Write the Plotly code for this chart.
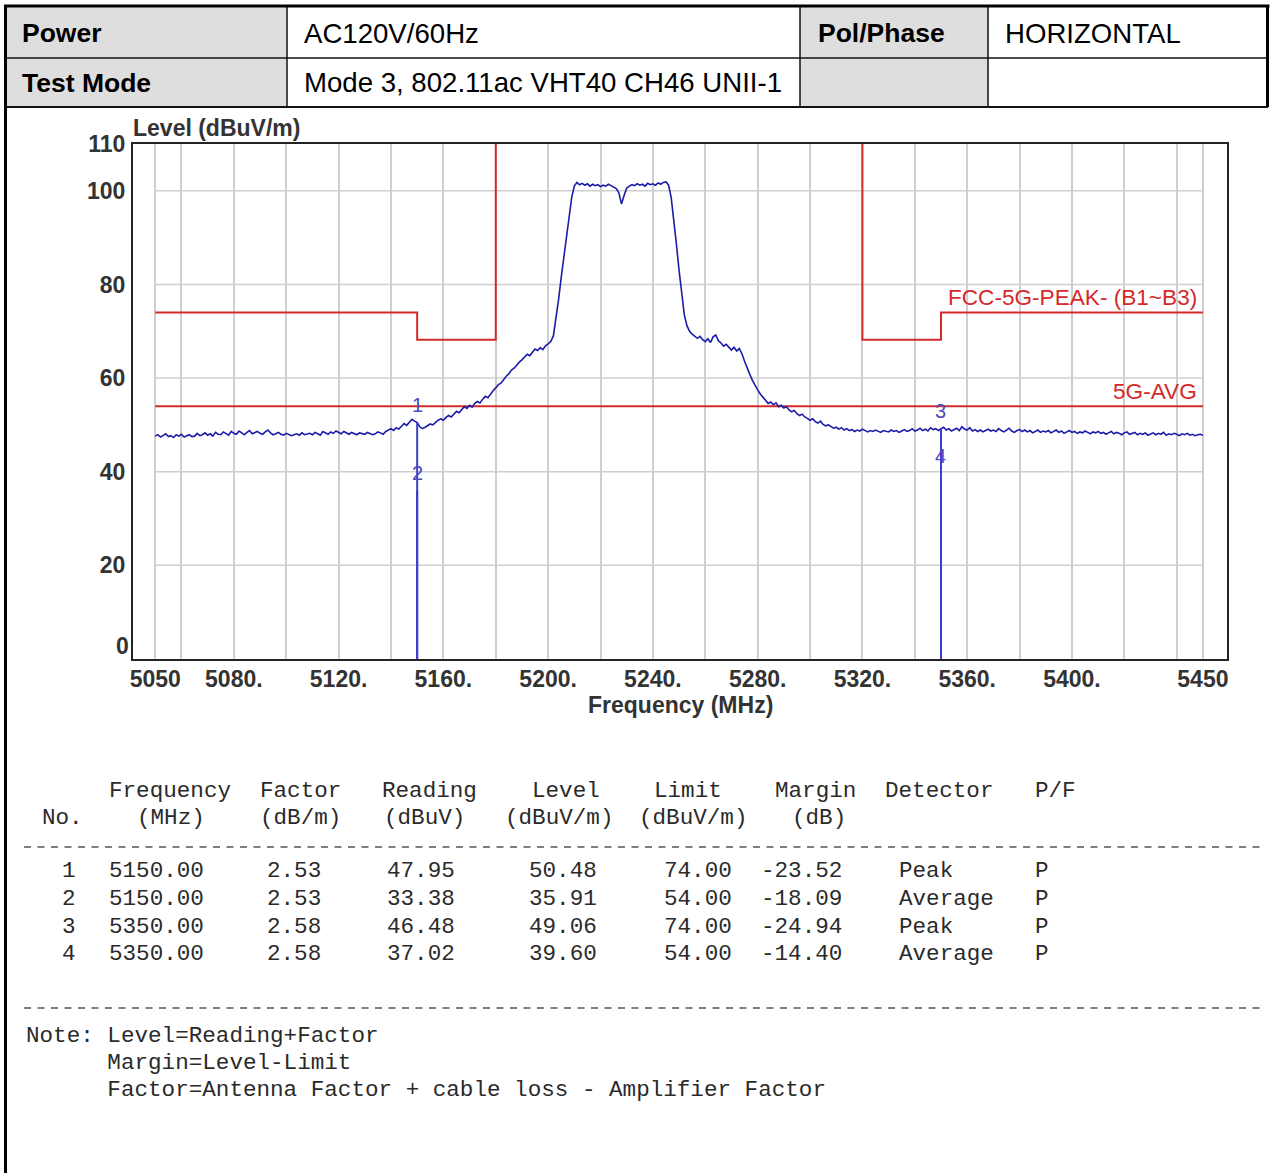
import plotly.graph_objects as go

# ---------------- data ----------------
INFO_ROWS = [["Power", "AC120V/60Hz", "Pol/Phase", "HORIZONTAL"],
             ["Test Mode", "Mode 3, 802.11ac VHT40 CH46 UNII-1", "", ""]]

FREQ_START = 5050.0   # MHz, sweep start
FREQ_STEP = 1.0       # MHz per trace sample
LEVELS = [
    47.6, 47.9, 47.4, 47.8, 48.1, 47.5, 47.7, 47.3, 47.9, 47.6, 48.0, 47.4, 47.7, 47.9, 47.5, 47.6, 48.2, 47.7, 47.9, 48.3,
    47.8, 48.1, 47.6, 48.4, 48.0, 47.9, 48.5, 48.1, 47.8, 48.6, 48.2, 48.0, 48.7, 48.3, 47.9, 48.4, 48.8, 48.1, 48.3, 48.6,
    48.2, 48.0, 48.5, 48.9, 48.3, 47.9, 48.1, 48.4, 48.0, 47.8, 48.2, 48.0, 47.7, 47.9, 48.1, 47.8, 48.3, 47.9, 48.0, 48.2,
    47.9, 48.4, 48.1, 47.8, 48.6, 48.3, 48.0, 48.5, 48.2, 48.7, 48.4, 48.1, 48.6, 48.3, 48.0, 48.4, 48.2, 47.9, 48.3, 48.1,
    48.0, 48.4, 48.2, 47.9, 48.1, 48.5, 48.3, 48.0, 48.6, 48.9, 49.2, 48.8, 49.4, 49.1, 49.8, 50.3, 49.9, 50.6, 51.2, 50.8,
    50.5, 49.6, 49.2, 49.5, 49.9, 50.2, 50.0, 50.6, 51.0, 51.3, 51.0, 51.6, 52.0, 51.7, 52.4, 52.9, 52.6, 53.2, 53.9, 53.5,
    54.2, 53.8, 54.6, 55.0, 54.7, 55.5, 56.1, 55.8, 56.6, 57.3, 57.9, 58.6, 58.9, 59.8, 60.4, 60.9, 61.7, 62.1, 62.8, 63.4,
    63.9, 64.6, 65.1, 64.8, 65.6, 66.2, 65.9, 66.5, 66.1, 66.9, 67.3, 67.8, 69.0, 72.5, 76.8, 81.5, 86.0, 90.5, 95.0, 98.6,
    101.0, 101.8, 101.3, 101.6, 101.2, 101.5, 101.0, 101.4, 101.1, 101.3, 100.9, 101.2, 101.0, 101.4, 101.1, 100.8, 100.5, 99.6, 97.2, 99.0,
    100.6, 101.0, 101.3, 101.1, 101.5, 101.2, 101.4, 101.0, 101.6, 101.3, 101.5, 101.2, 101.7, 101.4, 101.8, 101.9, 101.2, 98.5, 94.0, 88.5,
    83.0, 77.5, 73.5, 71.2, 70.0, 69.4, 69.0, 68.5, 68.9, 68.2, 67.8, 68.4, 67.6, 68.8, 69.2, 68.0, 67.5, 66.8, 67.2, 66.5,
    66.0, 66.6, 65.8, 66.3, 65.2, 63.6, 62.0, 60.8, 59.5, 58.4, 57.5, 56.6, 55.9, 55.2, 54.6, 54.9, 54.3, 54.7, 53.9, 54.2,
    53.6, 53.9, 53.2, 52.8, 53.1, 52.4, 52.0, 52.3, 51.7, 51.4, 51.0, 51.3, 50.7, 50.4, 50.8, 50.1, 49.8, 50.0, 49.6, 49.3,
    49.5, 49.1, 49.4, 48.9, 49.2, 48.8, 49.0, 48.6, 48.9, 48.7, 49.1, 48.8, 48.5, 48.8, 48.6, 48.9, 48.7, 48.4, 48.8, 48.6,
    48.5, 48.9, 48.6, 48.8, 48.4, 48.7, 49.0, 48.6, 48.8, 49.2, 48.7, 48.9, 49.3, 48.8, 49.1, 48.7, 49.4, 49.0, 49.2, 48.8,
    49.1, 49.5, 48.9, 49.2, 48.7, 49.0, 49.3, 48.8, 49.6, 49.1, 48.9, 49.4, 48.7, 49.0, 48.6, 48.9, 48.5, 48.8, 49.1, 48.7,
    48.9, 48.6, 49.2, 48.8, 48.5, 48.9, 49.3, 48.7, 48.4, 48.8, 49.0, 48.6, 48.9, 48.5, 48.8, 48.3, 48.6, 48.9, 48.4, 48.7,
    48.5, 48.8, 48.3, 48.6, 48.9, 48.4, 48.7, 48.2, 48.5, 48.8, 48.4, 48.6, 48.2, 48.5, 48.3, 48.7, 48.4, 48.1, 48.5, 48.3,
    48.6, 48.2, 48.4, 48.0, 48.3, 48.6, 48.1, 48.4, 48.2, 47.9, 48.3, 48.5, 48.0, 48.2, 48.4, 47.9, 48.2, 48.0, 48.3, 47.8,
    48.1, 48.3, 47.9, 48.2, 48.0, 48.4, 47.8, 48.1, 47.9, 48.2, 48.0, 47.7, 48.1, 47.9, 48.2, 47.8, 48.0, 47.7, 47.9, 48.0,
    47.8,
]

PEAK_LIMIT_F = [5050, 5150, 5150, 5180, 5180, None, 5320, 5320, 5350, 5350, 5450]
PEAK_LIMIT_V = [74, 74, 68.2, 68.2, 110, None, 110, 68.2, 68.2, 74, 74]
AVG_LIMIT_F = [5050, 5450]
AVG_LIMIT_V = [54, 54]
PEAK_LABEL = "FCC-5G-PEAK- (B1~B3)"
AVG_LABEL = "5G-AVG"

X_GRID = [5050, 5060, 5080, 5100, 5120, 5140, 5160, 5180, 5200, 5220, 5240, 5260,
          5280, 5300, 5320, 5340, 5360, 5380, 5400, 5420, 5440, 5450]
X_LABELED = {5050: "5050", 5080: "5080.", 5120: "5120.", 5160: "5160.", 5200: "5200.",
             5240: "5240.", 5280: "5280.", 5320: "5320.", 5360: "5360.", 5400: "5400.", 5450: "5450"}
Y_GRID = [20, 40, 60, 80, 100]
Y_TICKS = [20, 40, 60, 80, 100, 110]

MK_NO = [1, 2, 3, 4]
MK_FREQ = [5150.00, 5150.00, 5350.00, 5350.00]
MK_FACTOR = [2.53, 2.53, 2.58, 2.58]
MK_READING = [47.95, 33.38, 46.48, 37.02]
MK_LEVEL = [50.48, 35.91, 49.06, 39.60]
MK_LIMIT = [74.00, 54.00, 74.00, 54.00]
MK_MARGIN = [-23.52, -18.09, -24.94, -14.40]
MK_DETECTOR = ["Peak", "Average", "Peak", "Average"]
MK_PF = ["P", "P", "P", "P"]

NOTES = ["Note: Level=Reading+Factor", "      Margin=Level-Limit",
         "      Factor=Antenna Factor + cable loss - Amplifier Factor"]

# ---------------- layout geometry (pixels) ----------------
W, H = 1271, 1173
PL, PR, PT, PB = 133, 1227, 144, 659
PW, PH = PR - PL, PB - PT


def px(x):
    return (x - PL) / PW


def py(y):
    return (PB - y) / PH


SANS = "Liberation Sans, Arial, sans-serif"
MONO = "Liberation Mono, DejaVu Sans Mono, monospace"
TXT = "#2a2a2a"
RED = "#d42a2a"
BLUE = "#1c1ca8"
MBLUE = "#3c3cd0"
AXF = 23

fig = go.Figure()

freqs = [FREQ_START + i * FREQ_STEP for i in range(len(LEVELS))]

fig.add_trace(go.Scatter(x=PEAK_LIMIT_F, y=PEAK_LIMIT_V, mode="lines",
                         line=dict(color=RED, width=2), hoverinfo="skip"))
fig.add_trace(go.Scatter(x=AVG_LIMIT_F, y=AVG_LIMIT_V, mode="lines",
                         line=dict(color=RED, width=2), hoverinfo="skip"))
fig.add_trace(go.Scatter(x=freqs, y=LEVELS, mode="lines",
                         line=dict(color=BLUE, width=1.6)))
# marker lines
for f, lv in zip(MK_FREQ, MK_LEVEL):
    fig.add_trace(go.Scatter(x=[f, f], y=[0, lv], mode="lines",
                             line=dict(color=MBLUE, width=2), hoverinfo="skip"))

shapes = []
for g in Y_GRID:
    shapes.append(dict(type="line", xref="x", yref="y", x0=X_GRID[0], x1=X_GRID[-1], y0=g, y1=g,
                       line=dict(color="#cfcfcf", width=1.5), layer="below"))

ann = []
for no, f, lv in zip(MK_NO, MK_FREQ, MK_LEVEL):
    ann.append(dict(x=f, y=lv, xref="x", yref="y", text=str(no), showarrow=False,
                    yshift=18, font=dict(family=SANS, size=20, color="#4a4ac0")))

ann.append(dict(x=X_GRID[-1], y=PEAK_LIMIT_V[-1], xref="x", yref="y", text=PEAK_LABEL,
                showarrow=False, xanchor="right", xshift=-4, yshift=15,
                font=dict(family=SANS, size=22.6, color=RED)))
ann.append(dict(x=X_GRID[-1], y=AVG_LIMIT_V[-1], xref="x", yref="y", text=AVG_LABEL,
                showarrow=False, xanchor="right", xshift=-4, yshift=15,
                font=dict(family=SANS, size=22.6, color=RED)))

# axis titles & zero label
ann.append(dict(x=px(131), y=py(128), xref="paper", yref="paper", text="<b>Level (dBuV/m)</b>",
                showarrow=False, xanchor="left", yanchor="middle",
                font=dict(family=SANS, size=AXF, color="#333")))
ann.append(dict(x=px(680), y=py(705), xref="paper", yref="paper", text="<b>Frequency (MHz)</b>",
                showarrow=False, xanchor="center", yanchor="middle",
                font=dict(family=SANS, size=AXF, color="#333")))
ann.append(dict(x=px(131), y=0, xref="paper", yref="y", text="<b>0</b>", showarrow=False,
                xanchor="right", yanchor="middle", yshift=13,
                font=dict(family=SANS, size=AXF, color="#333")))

# ---------------- top info table ----------------
col_x = [5, 287, 800, 988, 1268]
row_y = [6, 58, 107]
for r in range(2):
    for c in (0, 2):
        shapes.append(dict(type="rect", xref="paper", yref="paper",
                           x0=px(col_x[c]), x1=px(col_x[c + 1]), y0=py(row_y[r]), y1=py(row_y[r + 1]),
                           fillcolor="#dedede", line=dict(width=0), layer="below"))
for cx in col_x[1:4]:
    shapes.append(dict(type="line", xref="paper", yref="paper", x0=px(cx), x1=px(cx),
                       y0=py(row_y[0]), y1=py(row_y[2]), line=dict(color="#111", width=1.5)))
shapes.append(dict(type="line", xref="paper", yref="paper", x0=px(5), x1=px(1268),
                   y0=py(row_y[1]), y1=py(row_y[1]), line=dict(color="#111", width=1.5)))
shapes.append(dict(type="line", xref="paper", yref="paper", x0=px(5), x1=px(1268),
                   y0=py(row_y[2]), y1=py(row_y[2]), line=dict(color="#111", width=2)))
shapes.append(dict(type="line", xref="paper", yref="paper", x0=px(4), x1=px(1269.5),
                   y0=py(6), y1=py(6), line=dict(color="#000", width=3)))
shapes.append(dict(type="line", xref="paper", yref="paper", x0=px(5.5), x1=px(5.5),
                   y0=py(5), y1=py(1173), line=dict(color="#000", width=3)))
shapes.append(dict(type="line", xref="paper", yref="paper", x0=px(1267.5), x1=px(1267.5),
                   y0=py(5), y1=py(107), line=dict(color="#000", width=3)))

cell_text_x = [20, 302, 816, 1003]
cell_text_y = [33, 83]
for r, row in enumerate(INFO_ROWS):
    for c, t in enumerate(row):
        if not t:
            continue
        bold = c in (0, 2)
        ann.append(dict(x=px(cell_text_x[c]), y=py(cell_text_y[r]), xref="paper", yref="paper",
                        text=f"<b>{t}</b>" if bold else t, showarrow=False,
                        xanchor="left", yanchor="middle",
                        font=dict(family=SANS, size=26.5 if bold else 27.6, color="#000")))

# ---------------- bottom result table ----------------
MF = dict(family=MONO, size=22.6, color=TXT)


def mono(x, y, text, anchor="left"):
    ann.append(dict(x=px(x), y=py(y), xref="paper", yref="paper", text=text.replace(" ", "&nbsp;"),
                    showarrow=False, xanchor=anchor, yanchor="middle", font=MF))


hdr1 = [(107, "Frequency"), (258, "Factor"), (380, "Reading"), (530, "Level"),
        (652, "Limit"), (773, "Margin"), (883, "Detector"), (1033, "P/F")]
hdr2 = [(40, "No."), (135, "(MHz)"), (258, "(dB/m)"), (382, "(dBuV)"), (503, "(dBuV/m)"),
        (637, "(dBuV/m)"), (790, "(dB)")]
for x, t in hdr1:
    mono(x, 791, t)
for x, t in hdr2:
    mono(x, 818, t)

row_ys = [871, 899, 927, 954]
for i in range(len(MK_NO)):
    yy = row_ys[i]
    mono(78, yy, str(MK_NO[i]), "right")
    mono(107, yy, f"{MK_FREQ[i]:.2f}")
    mono(323, yy, f"{MK_FACTOR[i]:.2f}", "right")
    mono(457, yy, f"{MK_READING[i]:.2f}", "right")
    mono(599, yy, f"{MK_LEVEL[i]:.2f}", "right")
    mono(734, yy, f"{MK_LIMIT[i]:.2f}", "right")
    mono(844, yy, f"{MK_MARGIN[i]:.2f}", "right")
    mono(897, yy, MK_DETECTOR[i])
    mono(1033, yy, MK_PF[i])

for yy in (847, 1008):
    shapes.append(dict(type="line", xref="paper", yref="paper", x0=px(24), x1=px(1262),
                       y0=py(yy), y1=py(yy), line=dict(color="#555", width=1.5, dash="7px,6.5px")))

for i, t in enumerate(NOTES):
    mono(24, 1036 + 27 * i, t)

fig.update_layout(
    width=W, height=H,
    margin=dict(l=PL, r=W - PR, t=PT, b=H - PB, pad=0),
    paper_bgcolor="white", plot_bgcolor="white",
    showlegend=False,
    shapes=shapes, annotations=ann,
    xaxis=dict(range=[5041.5, 5459.2], tickmode="array", tickvals=X_GRID,
               ticktext=[X_LABELED.get(v, "") for v in X_GRID],
               showgrid=True, gridcolor="#cfcfcf", gridwidth=1.5,
               showline=True, mirror=True, linecolor="#222", linewidth=2,
               ticks="", zeroline=False, ticklabelstandoff=-2,
               tickfont=dict(family=SANS, size=AXF, color="#333", weight="bold")),
    yaxis=dict(range=[0, 110], tickmode="array", tickvals=Y_TICKS,
               ticktext=[str(v) for v in Y_TICKS], showgrid=False,
               showline=True, mirror=True, linecolor="#222", linewidth=2,
               ticks="", zeroline=False, ticklabelstandoff=1,
               tickfont=dict(family=SANS, size=AXF, color="#333", weight="bold")),
)

fig.write_html("out.html")
